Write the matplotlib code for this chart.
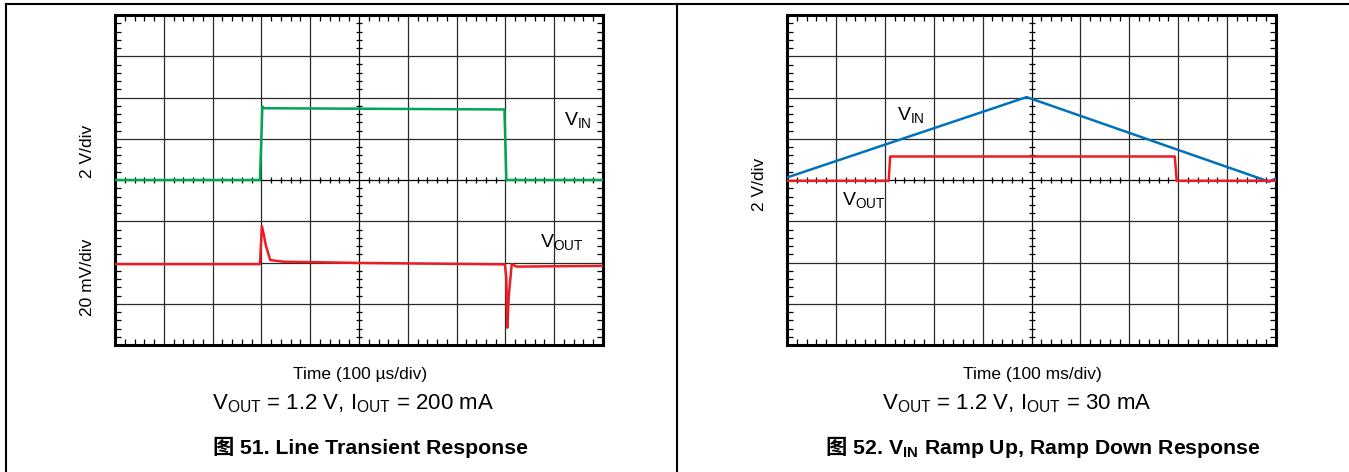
import numpy as np
import matplotlib
matplotlib.use("Agg")
import matplotlib.pyplot as plt
from matplotlib.lines import Line2D
from matplotlib.ticker import MultipleLocator

plt.rcParams['font.family'] = ['Liberation Sans', 'DejaVu Sans']
plt.rcParams['mathtext.fontset'] = 'custom'
plt.rcParams['mathtext.rm'] = 'Liberation Sans'
plt.rcParams['mathtext.it'] = 'Liberation Sans:italic'
plt.rcParams['mathtext.bf'] = 'Liberation Sans:bold'

# values in scope divisions (x: 0..10, y: 0..8 from bottom)
vin1_t = [0, 2.97, 3.02, 3.06, 7.98, 8.02, 10]
vin1_v = [4.0, 4.0, 5.78, 5.74, 5.71, 4.0, 4.0]

vout1_t = [0, 2.97, 3.01, 3.05, 3.09, 3.18, 3.45, 5.0, 7.99, 8.02, 8.04, 8.07, 8.13, 8.23, 10]
vout1_v = [1.96, 1.96, 2.88, 2.67, 2.42, 2.06, 2.02, 1.99, 1.955, 1.6, 0.42, 1.2, 1.96, 1.90, 1.92]

vin2_t = [0, 4.9, 9.86, 10]
vin2_v = [4.06, 6.01, 3.96, 4.04]

vout2_t = [0, 2.08, 2.11, 7.93, 7.97, 10]
vout2_v = [3.98, 3.98, 4.57, 4.57, 3.98, 3.98]

GREEN = "#00a651"
RED = "#ed1c24"
BLUE = "#0072bc"

W, H = 1349, 472
fig = plt.figure(figsize=(W / 100, H / 100), dpi=100)


def fx(px):
    return px / W


def fy(py):
    return 1 - py / H


def scope_axes(left, right, top=15, bottom=345):
    ax = fig.add_axes([fx(left), fy(bottom), fx(right - left), (bottom - top) / H])
    ax.set_xlim(0, 10)
    ax.set_ylim(0, 8)
    for i in range(1, 10):
        ax.axvline(i, color="#2a2a2a" if i != 5 else "black", lw=0.9, zorder=1)
    for j in range(1, 8):
        ax.axhline(j, color="#2a2a2a" if j != 4 else "black", lw=0.9, zorder=1)
    # small ticks on the centre lines
    xt = [v for v in np.arange(0.2, 10, 0.2) if abs(v - round(v)) > 0.05]
    yt = [v for v in np.arange(0.2, 8, 0.2) if abs(v - round(v)) > 0.05]
    ax.plot(xt, [4] * len(xt), ls="none", marker="|", ms=5, mew=0.9, color="black", zorder=1)
    ax.plot([5] * len(yt), yt, ls="none", marker="_", ms=5, mew=0.9, color="black", zorder=1)
    ax.xaxis.set_major_locator(MultipleLocator(1))
    ax.yaxis.set_major_locator(MultipleLocator(1))
    ax.xaxis.set_minor_locator(MultipleLocator(0.2))
    ax.yaxis.set_minor_locator(MultipleLocator(0.2))
    ax.tick_params(which="both", direction="in", top=True, right=True,
                   labelbottom=False, labelleft=False)
    ax.tick_params(which="major", length=0)
    ax.tick_params(which="minor", length=4, width=0.9, color="black")
    for s in ax.spines.values():
        s.set_linewidth(2.2)
        s.set_color("black")
    return ax


def centered_row(xc, yb, parts):
    r = fig.canvas.get_renderer()
    items = [fig.text(0, fy(yb), s, ha="left", va="baseline", **kw) for s, kw in parts]
    widths = [t.get_window_extent(r).width for t in items]
    x = xc - sum(widths) / 2
    for t, w in zip(items, widths):
        t.set_x(fx(x))
        x += w


# outer frame
fig.add_artist(Line2D([fx(6), 1], [fy(4), fy(4)], color="black", lw=1.5))
fig.add_artist(Line2D([fx(6), fx(6)], [0, fy(4)], color="black", lw=1.5))
fig.add_artist(Line2D([fx(677), fx(677)], [0, fy(4)], color="black", lw=1.5))

# ---- left: line transient ----
ax1 = scope_axes(115, 603)
ax1.plot(vin1_t, vin1_v, color=GREEN, lw=1.8, zorder=3)
ax1.plot(vout1_t, vout1_v, color=RED, lw=1.8, zorder=3)
ax1.text(9.2, 5.45, r"V$_{\mathrm{IN}}$", fontsize=14, va="center")
ax1.text(8.7, 2.5, r"V$_{\mathrm{OUT}}$", fontsize=14, va="center")
fig.text(fx(88), fy(151), "2 V/div", rotation=90, ha="center", va="center", fontsize=12.5)
fig.text(fx(88), fy(277), "20 mV/div", rotation=90, ha="center", va="center", fontsize=12.5)

fig.text(fx(360), fy(379), "Time (100 µs/div)", ha="center", va="baseline", fontsize=12.5)
fig.text(fx(353), fy(409), r"V$_{\mathrm{OUT}}$ = 1.2 V, I$_{\mathrm{OUT}}$ = 200 mA",
         ha="center", va="baseline", fontsize=16)
centered_row(370, 454, [("图", dict(family="Noto Sans CJK SC", weight="bold", fontsize=15.3)),
                        (" 51. Line Transient Response", dict(weight="bold", fontsize=15.3))])

# ---- right: ramp up / ramp down ----
ax2 = scope_axes(787, 1276)
ax2.plot(vin2_t, vin2_v, color=BLUE, lw=1.8, zorder=3)
ax2.plot(vout2_t, vout2_v, color=RED, lw=1.8, zorder=3)
ax2.text(2.25, 5.58, r"V$_{\mathrm{IN}}$", fontsize=14, va="center")
ax2.text(1.12, 3.52, r"V$_{\mathrm{OUT}}$", fontsize=14, va="center")
fig.text(fx(760), fy(184), "2 V/div", rotation=90, ha="center", va="center", fontsize=12.5)

fig.text(fx(1032), fy(379), "Time (100 ms/div)", ha="center", va="baseline", fontsize=12.5)
fig.text(fx(1017), fy(409), r"V$_{\mathrm{OUT}}$ = 1.2 V, I$_{\mathrm{OUT}}$ = 30 mA",
         ha="center", va="baseline", fontsize=16)
centered_row(1043, 454, [("图", dict(family="Noto Sans CJK SC", weight="bold", fontsize=15.3)),
                         (r" 52. V$_{\mathbf{IN}}$ Ramp Up, Ramp Down Response",
                          dict(weight="bold", fontsize=15.3))])

fig.savefig("out.png", dpi=100)
